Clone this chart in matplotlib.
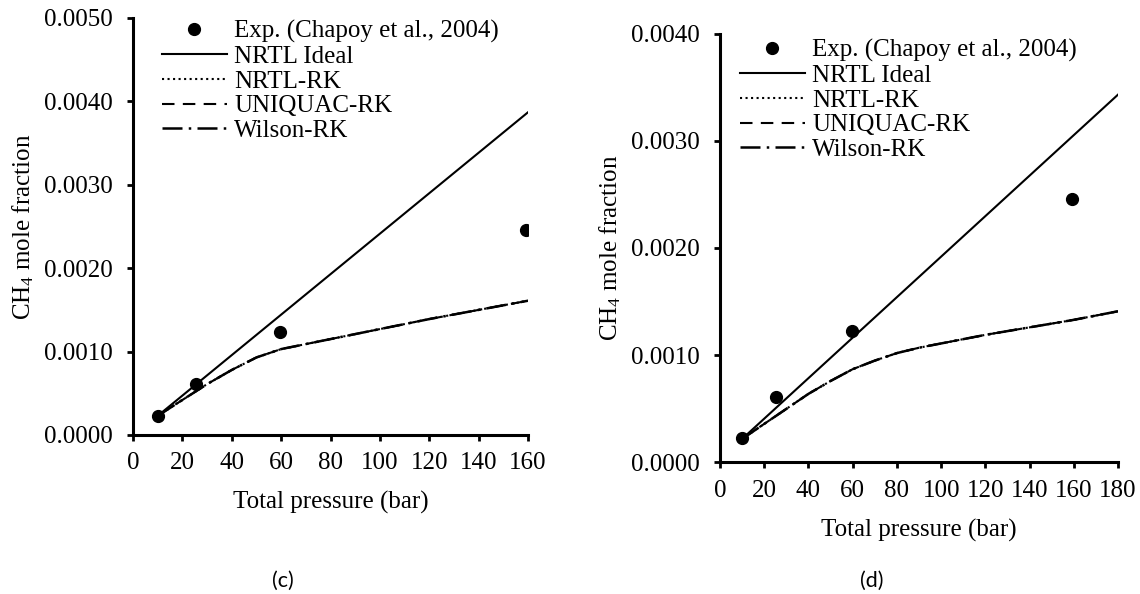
import matplotlib
matplotlib.use("Agg")
import matplotlib.pyplot as plt
from matplotlib.ticker import FormatStrFormatter, MultipleLocator

plt.rcParams['font.family'] = ['Liberation Serif', 'DejaVu Serif']
plt.rcParams['mathtext.fontset'] = 'custom'
plt.rcParams['mathtext.rm'] = 'Liberation Serif'
plt.rcParams['mathtext.it'] = 'Liberation Serif:italic'

FS = 18

# experimental points (same in both panels)
exp_p = [10, 25.5, 59.5, 159]
exp_x = [0.00023, 0.00061, 0.00123, 0.00246]

# panel (c)
ideal_p_c = [10, 160]
ideal_x_c = [0.00023, 0.00387]
rk_p_c = [10, 20, 30, 40, 50, 60, 70, 80, 100, 120, 140, 160]
rk_x_c = [0.00023, 0.00042, 0.00061, 0.00078, 0.00093, 0.00103, 0.00109,
          0.00115, 0.00127, 0.00139, 0.00150, 0.00161]

# panel (d)
ideal_p_d = [10, 180]
ideal_x_d = [0.00022, 0.00343]
rk_p_d = [10, 20, 30, 40, 50, 60, 70, 80, 90, 100, 120, 140, 160, 180]
rk_x_d = [0.00022, 0.00036, 0.00050, 0.00064, 0.00076, 0.00087, 0.00095,
          0.00102, 0.00107, 0.00111, 0.00119, 0.00126, 0.00133, 0.00141]

labels = ["Exp. (Chapoy et al., 2004)", "NRTL Ideal", "NRTL-RK",
          "UNIQUAC-RK", "Wilson-RK"]

fig = plt.figure(figsize=(11.4, 5.94), dpi=100)
ax1 = fig.add_axes([0.1167, 0.2677, 0.3465, 0.702])
ax2 = fig.add_axes([0.6316, 0.2214, 0.3491, 0.7222])


def draw(ax, ideal_p, ideal_x, rk_p, rk_x, xmax, ymax, leg_x, leg_y):
    ax.plot(exp_p, exp_x, 'o', color='black', ms=8.5, label=labels[0], zorder=5)
    ax.plot(ideal_p, ideal_x, '-', color='black', lw=1.5, label=labels[1])
    ax.plot(rk_p, rk_x, ':', color='black', lw=1.5, label=labels[2])
    ax.plot(rk_p, rk_x, color='black', lw=1.5, dashes=(6, 4), label=labels[3])
    ax.plot(rk_p, rk_x, color='black', lw=1.8, dashes=(8, 2.5, 1, 2.5),
            label=labels[4])

    ax.set_xlim(0, xmax)
    ax.set_ylim(0, ymax)
    ax.xaxis.set_major_locator(MultipleLocator(20))
    ax.yaxis.set_major_locator(MultipleLocator(0.001))
    ax.yaxis.set_major_formatter(FormatStrFormatter('%.4f'))
    for s in ['top', 'right']:
        ax.spines[s].set_visible(False)
    for s in ['left', 'bottom']:
        ax.spines[s].set_linewidth(2.2)
    ax.tick_params(direction='out', length=4.5, width=2, labelsize=FS)
    ax.tick_params(axis='y', pad=10)
    ax.tick_params(axis='x', pad=8)
    ax.set_xlabel("Total pressure (bar)", fontsize=FS, labelpad=12)
    ax.set_ylabel("CH$_4$ mole fraction", fontsize=FS, labelpad=6)
    ax.legend(loc='upper left', bbox_to_anchor=(leg_x, leg_y), frameon=False,
              fontsize=FS, borderpad=0, borderaxespad=0, handlelength=2.6,
              handletextpad=0.3, labelspacing=0.09, numpoints=1)


draw(ax1, ideal_p_c, ideal_x_c, rk_p_c, rk_x_c, 160, 0.005, 0.073, 0.995)
draw(ax2, ideal_p_d, ideal_x_d, rk_p_d, rk_x_d, 180, 0.004, 0.05, 0.987)

fig.text(283 / 1140, 1 - 581 / 594, "(c)", ha='center', va='center',
         fontsize=15.5, family=['Lato', 'DejaVu Sans'])
fig.text(872 / 1140, 1 - 581 / 594, "(d)", ha='center', va='center',
         fontsize=15.5, family=['Lato', 'DejaVu Sans'])

fig.savefig("out.png", dpi=100)
